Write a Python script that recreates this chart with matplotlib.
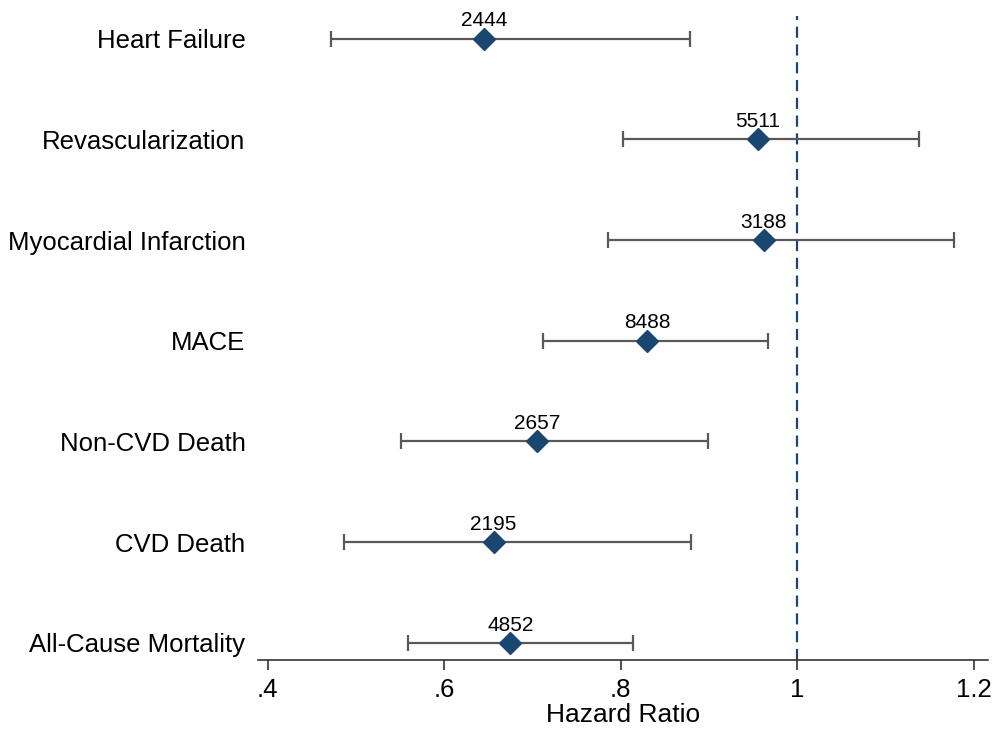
import matplotlib.pyplot as plt

# Outcomes, bottom to top
outcomes = ["All-Cause Mortality", "CVD Death", "Non-CVD Death", "MACE",
            "Myocardial Infarction", "Revascularization", "Heart Failure"]
hr = [0.675, 0.656, 0.705, 0.830, 0.962, 0.955, 0.645]
lower = [0.559, 0.487, 0.551, 0.712, 0.786, 0.802, 0.472]
upper = [0.814, 0.880, 0.899, 0.967, 1.178, 1.138, 0.878]
counts = ["4852", "2195", "2657", "8488", "3188", "5511", "2444"]

xticks = [0.4, 0.6, 0.8, 1.0, 1.2]
xticklabels = [".4", ".6", ".8", "1", "1.2"]

plt.rcParams['font.family'] = ['Liberation Sans', 'DejaVu Sans']

fig = plt.figure(figsize=(9.92, 7.29), dpi=100)
ax = fig.add_axes([0.26, 0.0947, 0.736, 0.884])

ypos = list(range(len(outcomes)))
xerr = [[h - l for h, l in zip(hr, lower)], [u - h for h, u in zip(hr, upper)]]

ax.axvline(1.0, color="#1a476f", linestyle=(0, (5, 3)), linewidth=1.6, zorder=1)
ax.errorbar(hr, ypos, xerr=xerr, fmt="none", ecolor="#595959", elinewidth=1.6,
            capsize=6, capthick=1.6, zorder=2)
ax.plot(hr, ypos, linestyle="none", marker="D", markersize=11,
        color="#1a476f", zorder=3)

for x, y, c in zip(hr, ypos, counts):
    ax.annotate(c, (x, y), xytext=(0, 6), textcoords="offset points",
                ha="center", va="bottom", fontsize=15)

ax.set_xlim(0.389, 1.216)
ax.set_ylim(-0.17, 6.23)
ax.set_xticks(xticks)
ax.set_xticklabels(xticklabels, fontsize=18.5)
ax.set_yticks(ypos)
ax.set_yticklabels(outcomes, fontsize=18.5)
ax.tick_params(axis="y", length=0, pad=9)
ax.tick_params(axis="x", length=7, width=1.2, color="#333333", pad=6)
ax.set_xlabel("Hazard Ratio", fontsize=19, labelpad=1)

for side in ["top", "right", "left"]:
    ax.spines[side].set_visible(False)
ax.spines["bottom"].set_linewidth(1.2)
ax.spines["bottom"].set_color("#333333")

plt.savefig("out.png", dpi=100)
